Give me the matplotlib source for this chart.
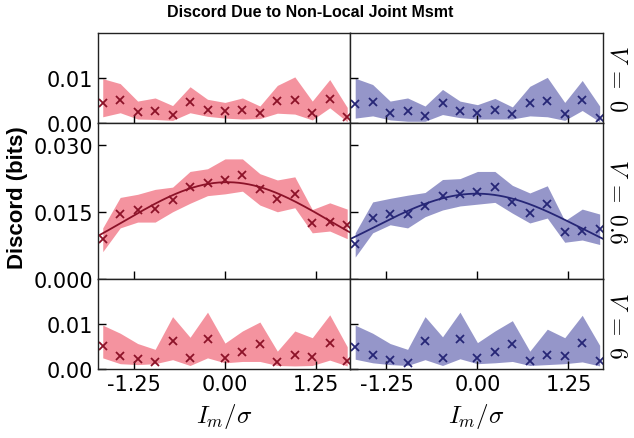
import numpy as np
import matplotlib
matplotlib.use("Agg")
import matplotlib.pyplot as plt
from matplotlib.ticker import FormatStrFormatter

plt.rcParams['mathtext.fontset'] = 'cm'

# measurement points (I_m / sigma)
x = np.linspace(-1.68, 1.68, 15)

# V = 0
v0_left = [0.0044, 0.0050, 0.0023, 0.0026, 0.0018, 0.0045, 0.0029, 0.0025,
           0.0029, 0.0022, 0.0048, 0.0050, 0.0022, 0.0053, 0.0012]
v0_left_hi = [0.0098, 0.0087, 0.0048, 0.0055, 0.0038, 0.0080, 0.0052, 0.0045,
              0.0055, 0.0037, 0.0083, 0.0102, 0.0048, 0.0096, 0.0034]
v0_left_lo = [0.0013, 0.0022, 0.0008, 0.0007, 0.0005, 0.0022, 0.0014, 0.0010,
              0.0008, 0.0009, 0.0021, 0.0019, 0.0006, 0.0033, 0.0002]
v0_right = [0.0042, 0.0046, 0.0021, 0.0025, 0.0015, 0.0043, 0.0025, 0.0021,
            0.0028, 0.0019, 0.0043, 0.0048, 0.0019, 0.0050, 0.0010]
v0_right_hi = [0.0099, 0.0085, 0.0048, 0.0055, 0.0037, 0.0074, 0.0048, 0.0040,
               0.0054, 0.0035, 0.0081, 0.0101, 0.0045, 0.0094, 0.0037]
v0_right_lo = [0.0010, 0.0015, 0.0006, 0.0003, 0.0003, 0.0018, 0.0011, 0.0008,
               0.0008, 0.0008, 0.0015, 0.0013, 0.0005, 0.0027, 0.0002]

# V = 0.6
v06_left = [0.0090, 0.0147, 0.0156, 0.0158, 0.0178, 0.0206, 0.0216, 0.0223,
            0.0234, 0.0201, 0.0179, 0.0190, 0.0127, 0.0129, 0.0121]
v06_left_hi = [0.0115, 0.0183, 0.0190, 0.0201, 0.0206, 0.0241, 0.0247, 0.0269,
               0.0269, 0.0236, 0.0222, 0.0229, 0.0156, 0.0171, 0.0157]
v06_left_lo = [0.0062, 0.0115, 0.0128, 0.0128, 0.0151, 0.0170, 0.0187, 0.0191,
               0.0197, 0.0166, 0.0151, 0.0160, 0.0104, 0.0108, 0.0091]
v06_right = [0.0078, 0.0137, 0.0147, 0.0147, 0.0165, 0.0186, 0.0191, 0.0195,
             0.0206, 0.0173, 0.0149, 0.0168, 0.0107, 0.0108, 0.0113]
v06_right_hi = [0.0104, 0.0173, 0.0181, 0.0188, 0.0194, 0.0223, 0.0225, 0.0241,
                0.0241, 0.0210, 0.0193, 0.0209, 0.0131, 0.0157, 0.0146]
v06_right_lo = [0.0050, 0.0104, 0.0122, 0.0115, 0.0140, 0.0155, 0.0164, 0.0168,
                0.0172, 0.0148, 0.0126, 0.0137, 0.0083, 0.0088, 0.0078]

# V = 6
v6_left = [0.0051, 0.0030, 0.0022, 0.0016, 0.0062, 0.0024, 0.0068, 0.0025,
           0.0038, 0.0055, 0.0016, 0.0031, 0.0026, 0.0059, 0.0017]
v6_left_hi = [0.0098, 0.0080, 0.0057, 0.0044, 0.0117, 0.0071, 0.0127, 0.0058,
              0.0085, 0.0105, 0.0040, 0.0085, 0.0070, 0.0121, 0.0050]
v6_left_lo = [0.0025, 0.0012, 0.0010, 0.0012, 0.0021, 0.0008, 0.0025, 0.0014,
              0.0017, 0.0017, 0.0008, 0.0007, 0.0008, 0.0020, 0.0007]
v6_right = [0.0050, 0.0032, 0.0020, 0.0014, 0.0062, 0.0024, 0.0067, 0.0025,
            0.0038, 0.0057, 0.0017, 0.0032, 0.0029, 0.0059, 0.0017]
v6_right_hi = [0.0098, 0.0080, 0.0057, 0.0044, 0.0117, 0.0072, 0.0127, 0.0059,
               0.0085, 0.0108, 0.0040, 0.0089, 0.0070, 0.0120, 0.0053]
v6_right_lo = [0.0022, 0.0014, 0.0010, 0.0008, 0.0021, 0.0008, 0.0023, 0.0012,
               0.0014, 0.0017, 0.0008, 0.0010, 0.0012, 0.0016, 0.0007]

row_labels = [r'$V\ =\ 0$', r'$V\ =\ 0.6$', r'$V\ =\ 6$']
row_ylim = [0.02, 0.035, 0.02]
row_ticks = [[0.0, 0.01], [0.0, 0.015, 0.030], [0.0, 0.01]]
row_fmt = ['%.2f', '%.3f', '%.2f']
x_ticks = [-1.25, 0.0, 1.25]

data = [
    [(v0_left, v0_left_lo, v0_left_hi), (v0_right, v0_right_lo, v0_right_hi)],
    [(v06_left, v06_left_lo, v06_left_hi), (v06_right, v06_right_lo, v06_right_hi)],
    [(v6_left, v6_left_lo, v6_left_hi), (v6_right, v6_right_lo, v6_right_hi)],
]

fill_colors = ['#f4939f', '#9596c9']
mark_colors = ['#8c1228', '#262676']

fig, axes = plt.subplots(3, 2, figsize=(6.34, 4.39), dpi=100, sharex=True,
                         sharey='row', gridspec_kw={'height_ratios': row_ylim})
fig.subplots_adjust(left=0.1546, right=0.951, top=0.9226, bottom=0.157,
                    hspace=0, wspace=0)

xs = np.linspace(-1.745, 1.725, 200)
for r in range(3):
    for c in range(2):
        ax = axes[r, c]
        mid, lo, hi = data[r][c]
        ax.fill_between(x, lo, hi, color=fill_colors[c], lw=0)
        ax.plot(x, mid, 'x', color=mark_colors[c], ms=6, mew=1.3)
        if r == 1:
            # gaussian fit via log-quadratic polyfit
            p = np.polyfit(x, np.log(mid), 2)
            ax.plot(xs, np.exp(np.polyval(p, xs)), color=mark_colors[c], lw=1.3)
        ax.set_xlim(-1.745, 1.725)
        ax.set_ylim(0, row_ylim[r])
        ax.set_yticks(row_ticks[r])
        ax.yaxis.set_major_formatter(FormatStrFormatter(row_fmt[r]))
        ax.set_xticks(x_ticks)
        ax.xaxis.set_major_formatter(FormatStrFormatter('%.2f'))
        ax.tick_params(direction='in', length=6, width=1, labelsize=15,
                       top=False, right=False)
        for s in ax.spines.values():
            s.set_linewidth(1.0)
            s.set_color('#222222')
        if c == 1:
            ax.tick_params(labelleft=False)
            ax.text(1.012, 0.5, row_labels[r], transform=ax.transAxes,
                    rotation=270, va='center', ha='left', fontsize=17)
        if r == 2:
            ax.set_xlabel(r'$I_m/\sigma$', fontsize=18, labelpad=5)

fig.text(0.028, 0.55, 'Discord (bits)', rotation=90, va='center', ha='center',
         fontsize=16, fontweight='bold', family='Liberation Sans')
fig.text(0.49, 0.972, 'Discord Due to Non-Local Joint Msmt', ha='center',
         va='center', fontsize=11.5, fontweight='bold', family='Liberation Sans')

fig.savefig('out.png', dpi=100)
